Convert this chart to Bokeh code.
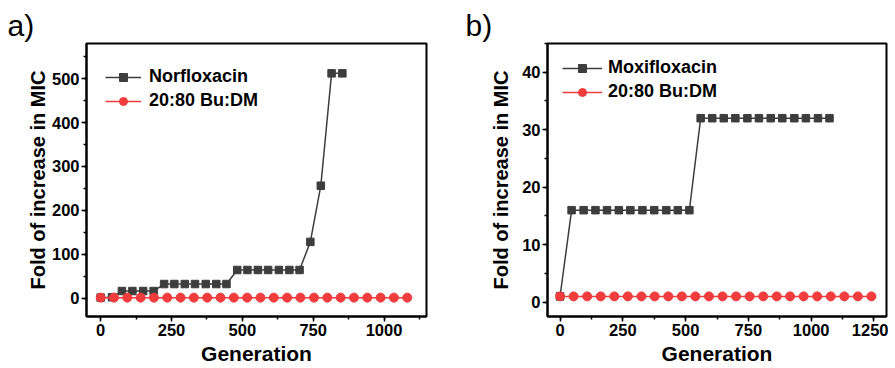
from bokeh.plotting import figure
from bokeh.models import SingleIntervalTicker, Range1d, Legend, LegendItem, Title
from bokeh.layouts import row
from bokeh.embed import file_html
from bokeh.resources import INLINE

# ---- data ----
norflox_gen = [0, 40, 75, 112, 150, 187, 224, 260, 297, 333, 371, 408, 444,
               482, 518, 555, 591, 629, 666, 702, 740, 777, 815, 853]
norflox_fold = [1, 2, 16, 16, 16, 16, 32, 32, 32, 32, 32, 32, 32,
                64, 64, 64, 64, 64, 64, 64, 128, 256, 512, 512]

budm_a_gen = [0, 47, 94, 141, 188, 235, 282, 329, 376, 423, 470, 517,
              564, 611, 658, 705, 753, 800, 847, 894, 941, 988, 1035, 1082]
budm_a_fold = [1, 1, 1, 1, 1, 1, 1, 1, 1, 1, 1, 1,
               1, 1, 1, 1, 1, 1, 1, 1, 1, 1, 1, 1]

moxi_gen = [0, 46, 94, 141, 187, 234, 280, 328, 375, 423, 469, 515,
            560, 606, 652, 698, 746, 792, 839, 885, 933, 979, 1027, 1073]
moxi_fold = [1, 16, 16, 16, 16, 16, 16, 16, 16, 16, 16, 16,
             32, 32, 32, 32, 32, 32, 32, 32, 32, 32, 32, 32]

budm_b_gen = [0, 54, 108, 162, 216, 270, 324, 377, 431, 485, 539, 593,
              647, 701, 755, 809, 863, 916, 970, 1024, 1078, 1132, 1186, 1240]
budm_b_fold = [1, 1, 1, 1, 1, 1, 1, 1, 1, 1, 1, 1,
               1, 1, 1, 1, 1, 1, 1, 1, 1, 1, 1, 1]

panel_labels = ["a)", "b)"]
drug_names = ["Norfloxacin", "Moxifloxacin"]
combo_name = "20:80 Bu:DM"
x_label = "Generation"
y_label = "Fold of increase in MIC"

FONT = "Liberation Sans"
DARK = "#3d3d3d"
RED = "#f03c3c"


def make_panel(label, drug, gen_d, fold_d, gen_c, fold_c, xr, yr, y_int,
               width, bl, br, fw, title_offset, leg_loc, leg_spacing,
               glyph_w, standoff_lbl, ylab_standoff):
    p = figure(frame_width=fw, frame_height=273, width=width, height=360,
               min_border_left=bl, min_border_right=br,
               min_border_top=43, min_border_bottom=44,
               x_range=Range1d(*xr), y_range=Range1d(*yr),
               output_backend="svg", toolbar_location=None)
    p.background_fill_color = "white"
    p.border_fill_color = "white"
    p.grid.visible = False
    p.outline_line_color = "black"
    p.outline_line_width = 2
    p.outline_line_alpha = 1

    p.xaxis.ticker = SingleIntervalTicker(interval=250, num_minor_ticks=2)
    p.yaxis.ticker = SingleIntervalTicker(interval=y_int, num_minor_ticks=2)
    for ax in (p.xaxis, p.yaxis):
        ax.axis_line_width = 2
        ax.axis_line_color = "black"
        ax.major_tick_out = 5
        ax.major_tick_in = 0
        ax.minor_tick_out = 3
        ax.minor_tick_in = 0
        ax.major_tick_line_width = 1.5
        ax.minor_tick_line_width = 1.5
        ax.major_label_text_font = FONT
        ax.major_label_text_font_style = "bold"
        ax.major_label_text_font_size = "16.5px"
        ax.major_label_text_color = "black"
        ax.axis_label_text_font = FONT
        ax.axis_label_text_font_style = "bold"
        ax.axis_label_text_color = "black"
    p.xaxis.major_label_standoff = 2
    p.yaxis.major_label_standoff = 2
    p.xaxis.axis_label = x_label
    p.xaxis.axis_label_text_font_size = "21px"
    p.xaxis.axis_label_standoff = 3
    p.yaxis.axis_label = y_label
    p.yaxis.axis_label_text_font_size = "20px"
    p.yaxis.axis_label_standoff = ylab_standoff

    l1 = p.line(gen_d, fold_d, line_color=DARK, line_width=1.5)
    s1 = p.scatter(gen_d, fold_d, marker="square", size=7.5,
                   fill_color=DARK, line_color=DARK)
    l2 = p.line(gen_c, fold_c, line_color=RED, line_width=1.5)
    s2 = p.scatter(gen_c, fold_c, marker="circle", size=9,
                   fill_color=RED, line_color=RED)

    legend = Legend(items=[LegendItem(label=drug, renderers=[l1, s1]),
                           LegendItem(label=combo_name, renderers=[l2, s2])],
                    location=leg_loc, padding=0, margin=0,
                    spacing=leg_spacing, glyph_width=glyph_w,
                    glyph_height=20, label_height=20,
                    label_standoff=standoff_lbl,
                    label_text_font=FONT, label_text_font_style="bold",
                    label_text_font_size="18px", label_text_color="black",
                    border_line_color=None, background_fill_alpha=0)
    p.add_layout(legend, "center")

    p.title = Title(text=label, align="left", offset=title_offset,
                    text_font="Liberation Sans", text_font_style="normal",
                    text_font_size="30px", text_color="black", standoff=4)
    return p


pa = make_panel(panel_labels[0], drug_names[0], norflox_gen, norflox_fold,
                budm_a_gen, budm_a_fold, (-50, 1150), (-42, 580), 100,
                450, 86, 24, 340, -79, (19, 205), 3, 36, 8, 0)
pb = make_panel(panel_labels[1], drug_names[1], moxi_gen, moxi_fold,
                budm_b_gen, budm_b_fold, (-50, 1300), (-2.5, 45), 10,
                438, 97, 2, 339, -82, (15, 214), 3, 40, 6, 7)

layout = row(pa, pb)
open("out.html", "w").write(file_html(layout, INLINE))
